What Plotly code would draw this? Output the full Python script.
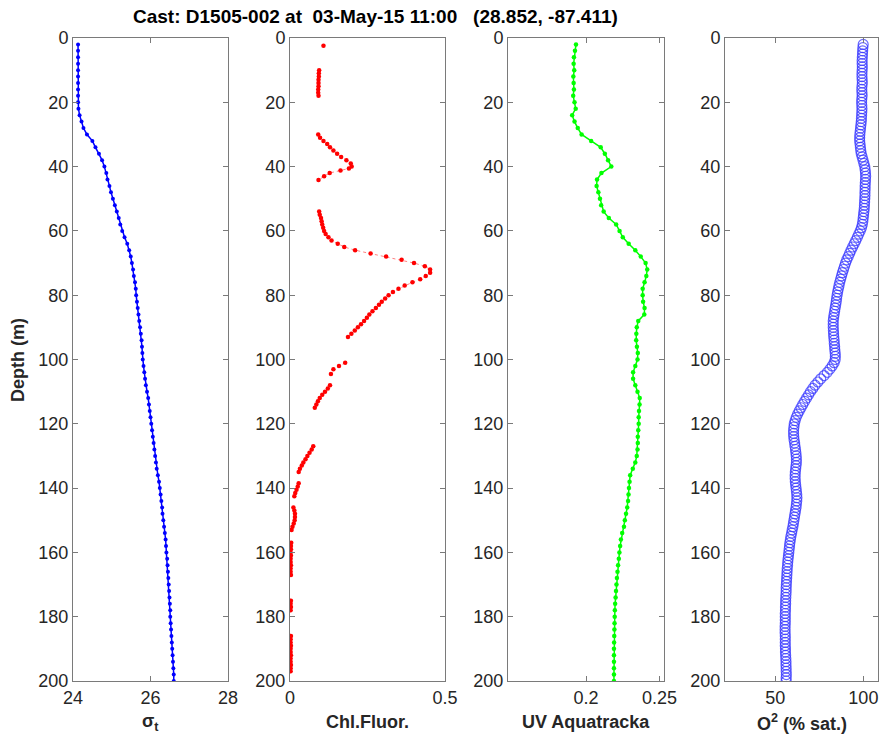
import plotly.graph_objects as go

# ---------------- data ----------------
depth_grid = list(range(2, 201, 2))
depth_grid_1m = list(range(2, 201))

sigma_t = [24.13, 24.13, 24.13, 24.13, 24.13, 24.13, 24.13, 24.13, 24.13, 24.13,
           24.14, 24.17, 24.22, 24.27, 24.36, 24.50, 24.58, 24.67, 24.75, 24.81,
           24.86, 24.89, 24.94, 24.98, 25.03, 25.08, 25.13, 25.18, 25.22, 25.27,
           25.33, 25.40, 25.45, 25.49, 25.52, 25.55, 25.57, 25.60, 25.62, 25.63,
           25.65, 25.67, 25.69, 25.71, 25.73, 25.75, 25.77, 25.78, 25.79, 25.80,
           25.82, 25.84, 25.86, 25.88, 25.91, 25.94, 25.96, 25.98, 26.00, 26.02,
           26.04, 26.06, 26.08, 26.10, 26.12, 26.14, 26.16, 26.19, 26.22, 26.24,
           26.26, 26.28, 26.30, 26.31, 26.33, 26.35, 26.37, 26.39, 26.40, 26.41,
           26.43, 26.44, 26.45, 26.46, 26.47, 26.48, 26.49, 26.50, 26.51, 26.51,
           26.52, 26.53, 26.54, 26.55, 26.56, 26.57, 26.58, 26.59, 26.60, 26.60]

chl_depth = [2.4, None,
             10, 11, 12, 13, 14, 15, 16, 17, 18, None,
             30, 31, 32, 33, 34, 35, 36, 37, 38, 39, 40, 40.6, 41.2, 42, 43, 44.2, None,
             54, 55, 56, 57, 58, 59, 60, 61, 62, 63, 64, 65, 66, 67, 68, 69, 70, 71, 72,
             73, 74, 75, 76, 77, 78, 79, 80, 81, 82, 83, 84, 85, 86, 87, 88, 89, 90, 91, 92, 93, None,
             101, 102, 103, 104.5, None,
             108, 109, 110, 111, 112, 113, 114, 115, None,
             127, 128, 129, 130, 131, 132, 133, 134, 135, None,
             138.5, 139.5, 140.5, 141.5, 142.5, None,
             146, 147, 148, 149, 150, 151, 152, 153, None,
             157, 158, 159, 160, 161, 162, 163, 164, 165, 166, 167, None,
             175, 176, 177, 178, None,
             186, 187, 188, 189, 190, 191, 192, 193, 194, 195, 196, 197]
chl_fluor = [0.108, None,
             0.094, 0.093, 0.093, 0.092, 0.092, 0.092, 0.091, 0.091, 0.092, None,
             0.091, 0.097, 0.108, 0.120, 0.129, 0.140, 0.152, 0.165, 0.182, 0.196, 0.199, 0.190, 0.163, 0.128, 0.110, 0.092, None,
             0.094, 0.096, 0.100, 0.102, 0.104, 0.107, 0.110, 0.115, 0.124, 0.134, 0.154, 0.175, 0.210, 0.260, 0.310, 0.360, 0.400, 0.435, 0.452,
             0.452, 0.438, 0.420, 0.395, 0.370, 0.350, 0.332, 0.318, 0.307, 0.296, 0.287, 0.277, 0.266, 0.256, 0.248, 0.239, 0.229, 0.219, 0.209, 0.198, 0.187, None,
             0.178, 0.158, 0.140, 0.132, None,
             0.129, 0.122, 0.113, 0.104, 0.096, 0.090, 0.085, 0.080, None,
             0.075, 0.070, 0.063, 0.056, 0.050, 0.043, 0.038, 0.032, 0.028, None,
             0.028, 0.025, 0.021, 0.017, 0.014, None,
             0.011, 0.014, 0.016, 0.016, 0.015, 0.012, 0.008, 0.005, None,
             0.004, 0.003, 0.003, 0.002, 0.003, 0.002, 0.002, 0.003, 0.002, 0.002, 0.003, None,
             0.003, 0.002, 0.003, 0.002, None,
             0.003, 0.002, 0.002, 0.003, 0.002, 0.002, 0.003, 0.002, 0.002, 0.003, 0.002, 0.002]

uv_aquatracka = [0.1932, 0.1925, 0.1918, 0.1916, 0.1920, 0.1914, 0.1916, 0.1918, 0.1913, 0.1922,
                 0.1930, 0.1906, 0.1922, 0.1944, 0.1970, 0.2035, 0.2100, 0.2128, 0.2150, 0.2172,
                 0.2105, 0.2075, 0.2072, 0.2084, 0.2095, 0.2103, 0.2120, 0.2155, 0.2205, 0.2228,
                 0.2250, 0.2290, 0.2335, 0.2372, 0.2405, 0.2416, 0.2410, 0.2398, 0.2385, 0.2385,
                 0.2388, 0.2398, 0.2396, 0.2355, 0.2345, 0.2342, 0.2341, 0.2346, 0.2352, 0.2350,
                 0.2335, 0.2320, 0.2320, 0.2335, 0.2350, 0.2365, 0.2364, 0.2360, 0.2358, 0.2358,
                 0.2355, 0.2352, 0.2352, 0.2350, 0.2345, 0.2335, 0.2318, 0.2300, 0.2296, 0.2292,
                 0.2289, 0.2286, 0.2280, 0.2272, 0.2264, 0.2258, 0.2246, 0.2237, 0.2232, 0.2227,
                 0.2223, 0.2218, 0.2214, 0.2210, 0.2207, 0.2204, 0.2201, 0.2198, 0.2196, 0.2195,
                 0.2194, 0.2193, 0.2192, 0.2191, 0.2190, 0.2190, 0.2190, 0.2190, 0.2190, 0.2190]

o2_sat = [99.9, 99.7, 99.6, 99.5, 99.4, 99.3, 99.3, 99.4, 99.3, 99.2,
          99.2, 99.3, 99.4, 99.2, 99.1, 99.2, 99.3, 99.1, 99.0, 99.1,
          99.2, 99.1, 99.0, 98.9, 98.8, 98.6, 98.4, 98.2, 98.0, 97.9,
          97.9, 98.1, 98.3, 98.5, 98.8, 99.3, 99.8, 100.3, 100.8, 101.0,
          101.2, 101.3, 101.2, 101.1, 101.0, 101.0, 100.9, 100.9, 100.8, 100.7,
          100.6, 100.5, 100.3, 100.1, 99.9, 99.7, 99.4, 98.9, 98.2, 97.4,
          96.6, 95.7, 94.8, 93.9, 93.0, 92.2, 91.4, 90.6, 89.9, 89.3,
          88.7, 88.1, 87.6, 87.1, 86.6, 86.2, 85.8, 85.4, 85.1, 84.8,
          84.6, 84.3, 84.0, 83.7, 83.4, 83.1, 82.9, 82.9, 82.9, 83.0,
          83.1, 83.2, 83.4, 83.5, 83.7, 83.8, 84.0, 84.1, 84.0, 83.4,
          82.3, 81.0, 79.5, 77.7, 75.8, 74.2, 72.6, 71.3, 70.0, 68.9,
          67.8, 66.7, 65.6, 64.6, 63.6, 62.7, 61.9, 61.3, 60.8, 60.6,
          60.4, 60.4, 60.5, 60.7, 61.0, 61.2, 61.5, 61.7, 61.9, 62.0,
          62.0, 61.8, 61.6, 61.4, 61.3, 61.3, 61.4, 61.6, 61.8, 62.0,
          62.2, 62.3, 62.2, 62.0, 61.8, 61.5, 61.2, 60.9, 60.6, 60.3,
          60.0, 59.6, 59.3, 58.9, 58.6, 58.3, 58.1, 57.9, 57.7, 57.5,
          57.3, 57.1, 57.0, 56.8, 56.7, 56.6, 56.5, 56.4, 56.3, 56.2,
          56.2, 56.1, 56.0, 55.9, 55.9, 55.8, 55.8, 55.7, 55.7, 55.7,
          55.7, 55.6, 55.6, 55.6, 55.7, 55.7, 55.7, 55.7, 55.8, 55.8,
          55.9, 56.0, 56.1, 56.1, 56.2, 56.2, 56.3, 56.2, 56.2]

depth_ticks = [0, 20, 40, 60, 80, 100, 120, 140, 160, 180, 200]
x_ticks = [[24, 26, 28], [0, 0.5], [0.2, 0.25], [50, 100]]
x_ticktext = [["24", "26", "28"], ["0", "0.5"], ["0.2", "0.25"], ["50", "100"]]
x_ranges = [[24, 28], [0, 0.5], [0.147, 0.253], [21.5, 108.3]]
x_titles = ["σ<sub>t</sub>", "Chl.Fluor.", "UV Aquatracka", "O<sup>2</sup> (% sat.)"]
title_text = "Cast: D1505-002 at\u00a0 03-May-15 11:00 \u00a0\u00a0(28.852, -87.411)"

# ---------------- layout ----------------
W, H = 883, 740
panels_px = [(73, 228), (290, 445), (508, 664), (725, 878)]
y_top, y_bot = 38, 681
ydom = [1 - y_bot / H, 1 - y_top / H]
FONT = "Arial, 'Liberation Sans', Helvetica, sans-serif"
AX_COLOR = "#7a7a7a"
TXT = "#262626"

fig = go.Figure()

traces = [
    dict(x=sigma_t, y=depth_grid, mode="lines+markers",
         line=dict(color="rgb(0,0,255)", width=1.5),
         marker=dict(color="rgb(0,0,255)", size=4)),
    dict(x=chl_fluor, y=chl_depth, mode="lines+markers",
         line=dict(color="rgba(255,0,0,0.5)", width=1, dash="dot"),
         marker=dict(color="rgb(255,0,0)", size=4.5)),
    dict(x=uv_aquatracka, y=depth_grid, mode="lines+markers",
         line=dict(color="rgb(0,255,0)", width=1.5),
         marker=dict(color="rgb(0,255,0)", size=4.5)),
    dict(x=o2_sat, y=depth_grid_1m, mode="markers",
         marker=dict(symbol="circle-open", color="rgba(55,55,255,0.75)", size=10,
                     line=dict(width=1.2))),
]

for i, t in enumerate(traces):
    sfx = "" if i == 0 else str(i + 1)
    fig.add_trace(go.Scatter(xaxis="x" + sfx, yaxis="y" + sfx, showlegend=False,
                             connectgaps=False, hoverinfo="skip", **t))

axis_common = dict(showline=True, linecolor=AX_COLOR, linewidth=1, mirror="ticks",
                   ticks="inside", ticklen=5, tickcolor=AX_COLOR, showgrid=False,
                   zeroline=False, automargin=False,
                   tickfont=dict(family=FONT, size=18, color=TXT))

layout = dict(width=W, height=H, margin=dict(l=0, r=0, t=0, b=0, autoexpand=False),
              paper_bgcolor="white", plot_bgcolor="white", showlegend=False)

annotations = []
for i, (x0, x1) in enumerate(panels_px):
    sfx = "" if i == 0 else str(i + 1)
    layout["xaxis" + sfx] = dict(domain=[x0 / W, x1 / W], range=x_ranges[i],
                                 tickvals=x_ticks[i], ticktext=x_ticktext[i],
                                 anchor="y" + sfx, **axis_common)
    layout["yaxis" + sfx] = dict(domain=ydom, range=[200, 0], tickvals=depth_ticks,
                                 anchor="x" + sfx, **axis_common)
    annotations.append(dict(text="<b>" + x_titles[i] + "</b>", x=(x0 + x1) / 2 / W,
                            y=1 - 722 / H, xref="paper", yref="paper", showarrow=False,
                            xanchor="center", yanchor="middle",
                            font=dict(family=FONT, size=18, color=TXT)))

annotations.append(dict(text="<b>Depth (m)</b>", x=18 / W, y=1 - 360 / H, xref="paper",
                        yref="paper", showarrow=False, textangle=-90,
                        xanchor="center", yanchor="middle",
                        font=dict(family=FONT, size=18, color=TXT)))
annotations.append(dict(text="<b>" + title_text + "</b>", x=375 / W, y=1 - 17 / H,
                        xref="paper", yref="paper", showarrow=False,
                        xanchor="center", yanchor="middle",
                        font=dict(family=FONT, size=19, color="black")))
layout["annotations"] = annotations
fig.update_layout(**layout)

fig.write_html("out.html")
